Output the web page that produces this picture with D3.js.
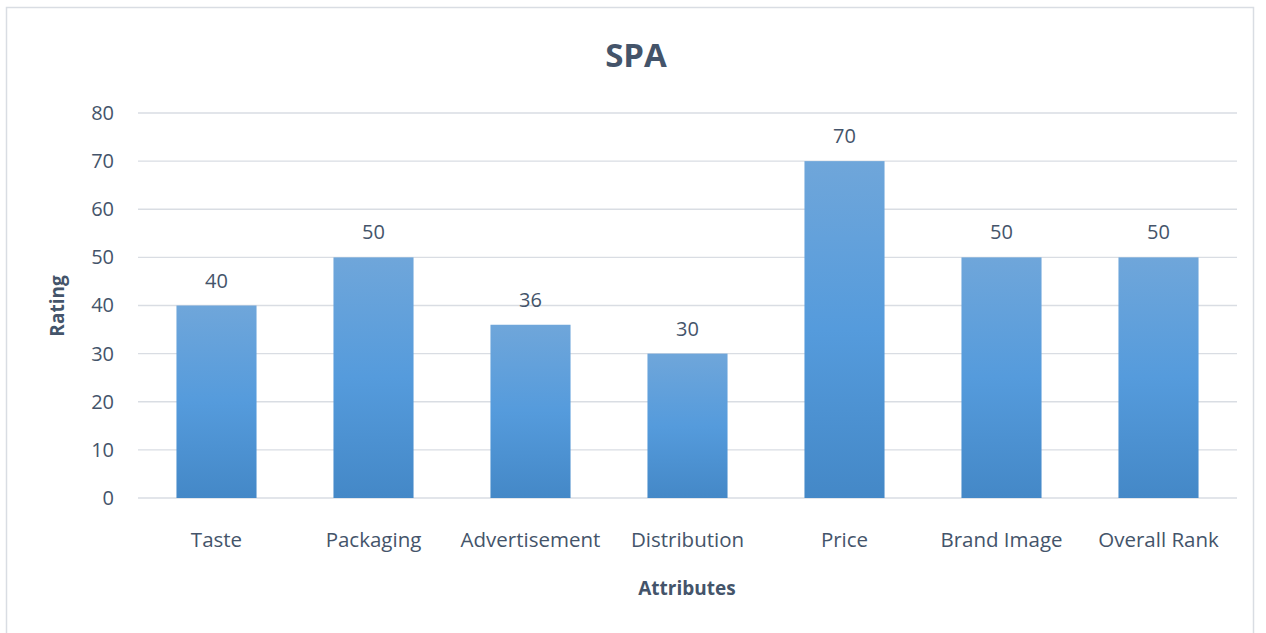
<!DOCTYPE html>
<html>
<head>
    <title>SPA</title>
    <script src="https://cdnjs.cloudflare.com/ajax/libs/d3/7.8.5/d3.min.js"></script>
    <style>
        body { margin: 0; background: #fff; }
        svg { display: block; }
        svg text { font-family: "Open Sans", "Noto Sans", sans-serif; }
    </style>
</head>
<body>
    <div id="chart"></div>
    <script>
        const categories = ["Taste", "Packaging", "Advertisement", "Distribution", "Price", "Brand Image", "Overall Rank"]
        const ratings = [40, 50, 36, 30, 70, 50, 50]
        const yTicks = [0, 10, 20, 30, 40, 50, 60, 70, 80]

        const W = 1266, H = 633
        const MARGIN = { top: 113, right: 29, bottom: 135, left: 138 }
        const chartW = W - MARGIN.left - MARGIN.right
        const chartH = H - MARGIN.top - MARGIN.bottom
        const textColor = "#44546a"

        let svg = d3.select("#chart").append("svg")
            .attr("width", W).attr("height", H)

        // outer chart border
        svg.append("rect").attr("x", 6.5).attr("y", 7.5)
            .attr("width", 1247).attr("height", 640)
            .attr("fill", "none").attr("stroke", "#d9dde3").attr("stroke-width", 1.5)

        let grad = svg.append("defs").append("linearGradient")
            .attr("id", "barGrad").attr("x1", 0).attr("y1", 0).attr("x2", 0).attr("y2", 1)
        grad.append("stop").attr("offset", "0%").attr("stop-color", "#6fa6da")
        grad.append("stop").attr("offset", "50%").attr("stop-color", "#559bdc")
        grad.append("stop").attr("offset", "100%").attr("stop-color", "#4488c7")

        let g = svg.append("g").attr("transform", `translate(${MARGIN.left},${MARGIN.top})`)

        let x = d3.scaleBand().domain(categories).range([0, chartW]).paddingInner(0.49).paddingOuter(0.245)
        let y = d3.scaleLinear().domain([0, 80]).range([chartH, 0])

        // gridlines
        g.selectAll(".grid").data(yTicks).join("line")
            .attr("x1", 0).attr("x2", chartW)
            .attr("y1", d => y(d)).attr("y2", d => y(d))
            .attr("stroke", "#d9dde3").attr("stroke-width", 1.3)

        let yAxis = g.append("g").call(d3.axisLeft(y).tickValues(yTicks).tickSize(0).tickPadding(24))
        yAxis.attr("font-family", null)
        yAxis.select(".domain").remove()
        yAxis.selectAll("text").attr("fill", textColor).style("font-size", "20px")

        g.selectAll(".bar").data(ratings).join("rect")
            .attr("x", (d, i) => x(categories[i]))
            .attr("y", d => y(d))
            .attr("width", x.bandwidth())
            .attr("height", d => chartH - y(d))
            .attr("fill", "url(#barGrad)")

        g.selectAll(".val").data(ratings).join("text")
            .attr("x", (d, i) => x(categories[i]) + x.bandwidth() / 2)
            .attr("y", d => y(d) - 18)
            .attr("text-anchor", "middle")
            .attr("fill", textColor).style("font-size", "20px")
            .text(d => d)

        let xAxis = g.append("g").attr("transform", `translate(0,${chartH})`)
            .call(d3.axisBottom(x).tickSize(0).tickPadding(34))
        xAxis.attr("font-family", null)
        xAxis.select(".domain").remove()
        xAxis.selectAll("text").attr("fill", textColor).style("font-size", "20.5px")

        svg.append("text").attr("x", 636).attr("y", 67).attr("text-anchor", "middle")
            .attr("fill", textColor).style("font-size", "33px").style("font-weight", "bold").text("SPA")

        svg.append("text").attr("x", 687).attr("y", 595).attr("text-anchor", "middle")
            .attr("fill", textColor).style("font-size", "19px").style("font-weight", "bold").text("Attributes")

        svg.append("text").attr("transform", "translate(64,306) rotate(-90)").attr("text-anchor", "middle")
            .attr("fill", textColor).style("font-size", "19px").style("font-weight", "bold").text("Rating")
    </script>
</body>
</html>
